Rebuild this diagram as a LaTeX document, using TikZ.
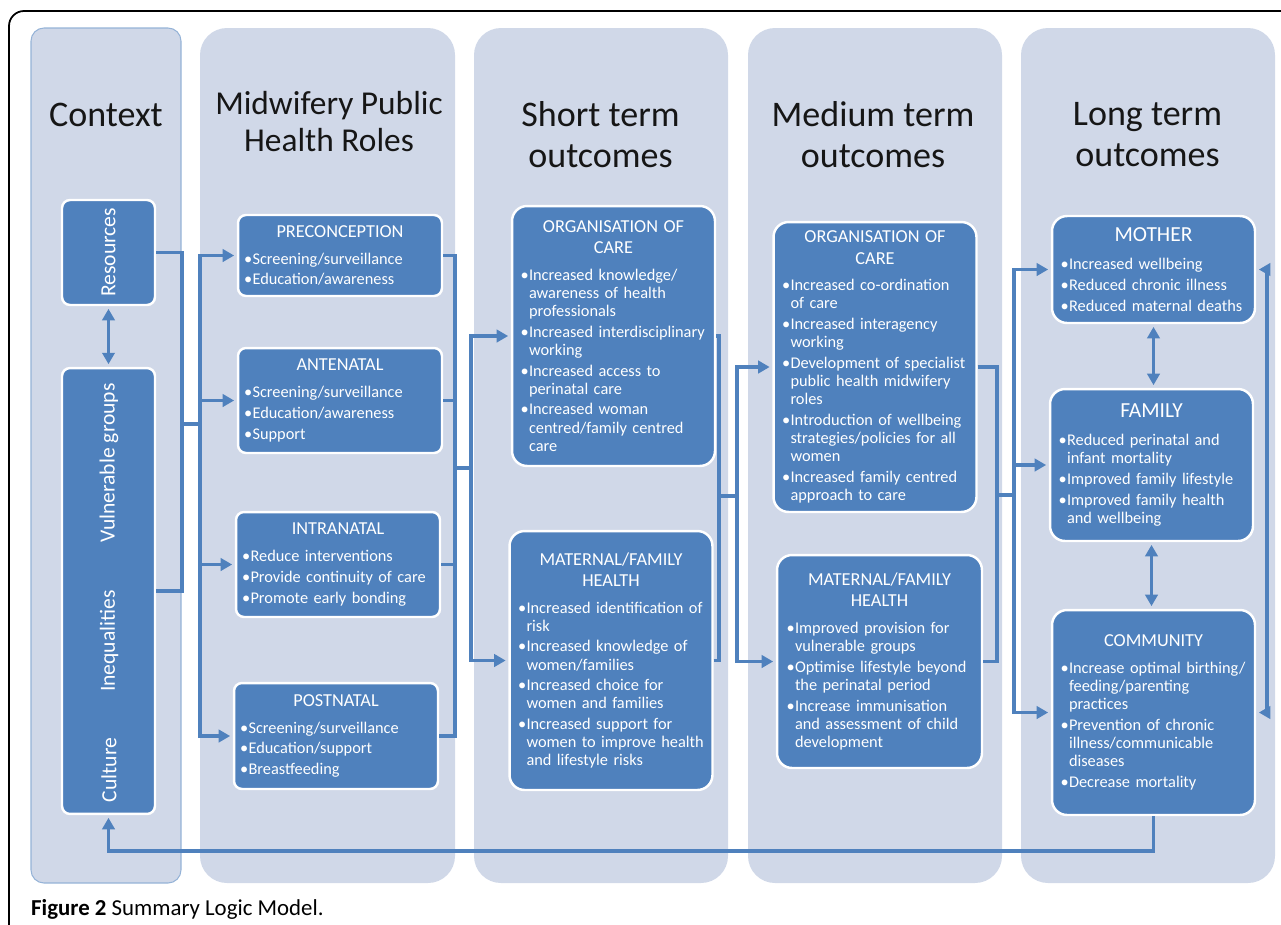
\documentclass[tikz,border=0pt]{standalone}
\usepackage{fontspec}
\setmainfont{Carlito}
\usepackage{graphicx}
\usepackage{tikz}
\usetikzlibrary{arrows.meta, positioning}
\definecolor{boxblue}{HTML}{4F81BD}
\definecolor{colbg}{HTML}{D0D8E8}
\definecolor{ctxedge}{HTML}{95B3D7}
\definecolor{headtxt}{HTML}{161616}
\newlength{\bulpad}
\newcommand{\ttl}[1]{{\centering\fontsize{10.4}{12}\selectfont #1\par}\vspace{3.4pt}}
\newcommand{\bigttl}[1]{{\centering\fontsize{12.2}{14}\selectfont #1\par}\vspace{4.4pt}}
\newcommand{\itm}{\par\leftskip=\bulpad\hangindent=0.46em\hangafter=1\noindent\makebox[0.46em][l]{\hspace{-0.06em}\textbullet}}
\tikzstyle{colbox} = [fill=colbg, rounded corners=0.54cm]
\tikzstyle{colhead} = [align=center, text=headtxt, font=\fontsize{20.5}{23.3}\selectfont]
\tikzstyle{ctxbox} = [rectangle, rounded corners=0.16cm, fill=boxblue, draw=white, line width=1.4pt, minimum width=1.86cm, text=white, font=\fontsize{12.3}{14}\selectfont]
\tikzstyle{sidetxt} = [rotate=90, text=white, font=\fontsize{12.3}{14}\selectfont]
\tikzstyle{rolebox} = [rectangle, rounded corners=0.16cm, fill=boxblue, draw=white, line width=1.4pt, text=white, inner sep=0pt, minimum width=4.08cm, text width=3.8cm, align=left, font=\fontsize{9.3}{10.3}\selectfont, execute at begin node={\setlength{\parskip}{1.5pt}\setlength{\parindent}{0pt}\setlength{\bulpad}{0pt}}]
\tikzstyle{outbox} = [rolebox, rounded corners=0.3cm, minimum width=4.06cm, text width=3.92cm, execute at begin node={\setlength{\bulpad}{3.4pt}}]
\tikzstyle{conn} = [draw=boxblue, line width=1.8pt]
\tikzstyle{arrow} = [conn, ->, >={Triangle[length=6.5pt,width=7pt]}, shorten >=1.5pt]
\tikzstyle{dbl} = [arrow, <->, shorten <=1.5pt]

\begin{document}
\begin{tikzpicture}[x=0.02cm, y=-0.02cm]
\useasboundingbox (0,0) rectangle (1281,924);
\draw[black, line width=1pt, rounded corners=0.3cm] (9,940) -- (9,11) -- (1300,11);

% columns
\draw[colbox, draw=ctxedge, line width=0.6pt, rounded corners=0.26cm] (31,28) rectangle (181,883);
\fill[colbox] (200,28) rectangle (455,883);
\fill[colbox] (474,28) rectangle (728,883);
\fill[colbox] (748,28) rectangle (1002,883);
\fill[colbox] (1021,28) rectangle (1275,883);

\node[colhead] (hctx) at (106,115) {Context};
\node[colhead, font=\fontsize{19}{21.5}\selectfont] (hmid) at (329,121.5) {Midwifery Public\\Health Roles};
\node[colhead] (hshort) at (600.5,134.5) {Short term\\outcomes};
\node[colhead] (hmed) at (873,134.5) {Medium term\\outcomes};
\node[colhead] (hlong) at (1147.5,134.5) {Long term\\outcomes};

% context
\node[ctxbox, minimum height=2.1cm] (res) at (108.5,252.5) {\rotatebox{90}{Resources}};
\node[ctxbox, minimum height=8.92cm] (vul) at (108.5,591) {};
\node[sidetxt] (vulg) at (109,463) {Vulnerable groups};
\node[sidetxt] (ineq) at (109,641) {Inequalities};
\node[sidetxt] (cult) at (109,770) {Culture};

% roles
\node[rolebox, minimum height=1.62cm] (pre) at (340,255.5) {\ttl{PRECONCEPTION}\itm Screening/surveillance\itm Education/awareness\par};
\node[rolebox, minimum height=2.1cm] (ante) at (340,400.5) {\ttl{ANTENATAL}\itm Screening/surveillance\itm Education/awareness\itm Support\par};
\node[rolebox, minimum height=2.1cm] (intra) at (338,564.5) {\ttl{INTRANATAL}\itm Reduce interventions\itm Provide continuity of care\itm Promote early bonding\par};
\node[rolebox, minimum height=2.12cm] (post) at (336,736) {\ttl{POSTNATAL}\itm Screening/surveillance\itm Education/support\itm Breastfeeding\par};

% short term
\node[outbox, minimum height=5.2cm] (sorg) at (613.5,336) {\ttl{ORGANISATION OF\\CARE}\itm Increased knowledge/\newline awareness of health\newline professionals\itm Increased interdisciplinary\newline working\itm Increased access to\newline perinatal care\itm Increased woman\newline centred/family centred\newline care\par};
\node[outbox, minimum height=5.18cm] (smat) at (611,660.5) {\ttl{MATERNAL/FAMILY\\HEALTH}\itm Increased identification of\newline risk\itm Increased knowledge of\newline women/families\itm Increased choice for\newline women and families\itm Increased support for\newline women to improve health\newline and lifestyle risks\par};

% medium term
\node[outbox, minimum height=5.8cm] (morg) at (875,367) {\ttl{ORGANISATION OF\\CARE}\itm Increased co-ordination\newline of care\itm Increased interagency\newline working\itm Development of specialist\newline public health midwifery\newline roles\itm Introduction of wellbeing\newline strategies/policies for all\newline women\itm Increased family centred\newline approach to care\par};
\node[outbox, minimum height=4.26cm, minimum width=4.1cm] (mmat) at (879.5,661.5) {\ttl{MATERNAL/FAMILY\\HEALTH}\itm Improved provision for\newline vulnerable groups\itm Optimise lifestyle beyond\newline the perinatal period\itm Increase immunisation\newline and assessment of child\newline development\par};

% long term
\node[outbox, minimum height=2.14cm] (moth) at (1153.5,269.5) {\bigttl{MOTHER}\itm Increased wellbeing\itm Reduced chronic illness\itm Reduced maternal deaths\par};
\node[outbox, minimum height=3.04cm] (fam) at (1151.5,465) {\bigttl{FAMILY}\itm Reduced perinatal and\newline infant mortality\itm Improved family lifestyle\itm Improved family health\newline and wellbeing\par};
\node[outbox, minimum height=4.1cm] (comm) at (1153.5,712.5) {\ttl{COMMUNITY}\itm Increase optimal birthing/\newline feeding/parenting\newline practices\itm Prevention of chronic\newline illness/communicable\newline diseases\itm Decrease mortality\par};

\node[anchor=base west, font=\fontsize{13}{15}\selectfont] (cap) at (25,915) {\textbf{Figure 2} Summary Logic Model.};

% junctions
\coordinate (j1) at (182,424);
\coordinate (b1) at (200,424);
\coordinate (j2) at (455,468);
\coordinate (b2) at (471,468);
\coordinate (j3) at (719,496);
\coordinate (b3) at (737,496);
\coordinate (j4) at (997,495);
\coordinate (b4) at (1014,495);
\coordinate (rr) at (1267,500);
\coordinate (fbl) at (108.5,851);

\draw[conn] (res.east) -| (j1) |- (vul.east);
\draw[conn] (j1) -- (b1);
\foreach \n in {pre,ante,intra,post} \draw[arrow] (b1) |- (\n.west);
\foreach \n in {pre,ante,intra,post} \draw[conn] (\n.east) -| (j2);
\draw[conn] (j2) -- (b2);
\foreach \n in {sorg,smat} \draw[arrow] (b2) |- (\n.west);
\foreach \n in {sorg,smat} \draw[conn] (\n.east) -| (j3);
\draw[conn] (j3) -- (b3);
\foreach \n in {morg,mmat} \draw[arrow] (b3) |- (\n.west);
\foreach \n in {morg,mmat} \draw[conn] (\n.east) -| (j4);
\draw[conn] (j4) -- (b4);
\foreach \n in {moth,fam,comm} \draw[arrow] (b4) |- (\n.west);
\draw[dbl] (moth.east) -| (rr) |- (comm.east);
\draw[dbl] (res.south) -- (vul.north);
\draw[dbl] (moth.south) -- (moth.south |- fam.north);
\draw[dbl] (fam.south) -- (fam.south |- comm.north);
\draw[arrow] (comm.south) |- (fbl) -- (vul.south);
\end{tikzpicture}
\end{document}
